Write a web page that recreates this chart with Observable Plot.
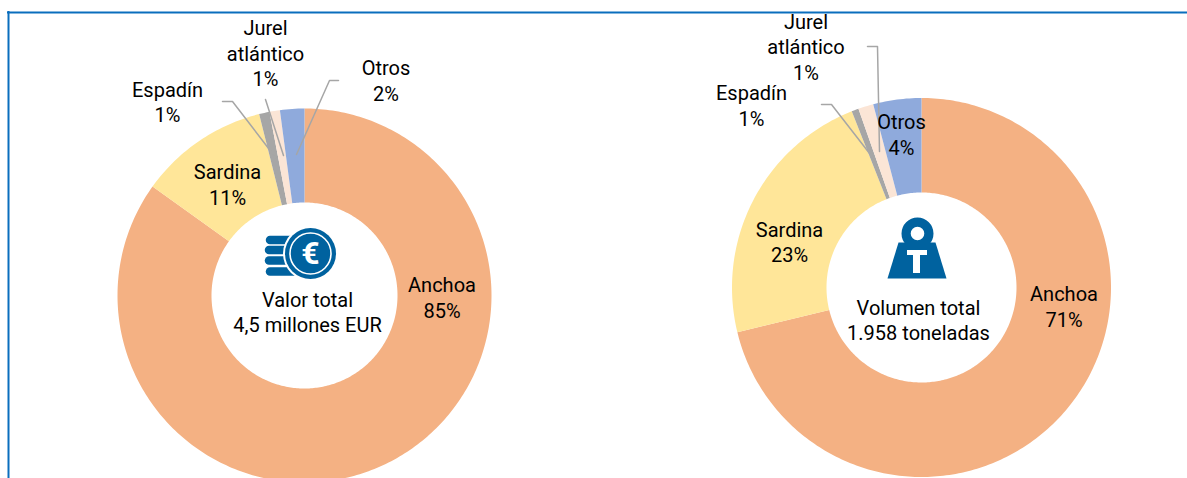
<!DOCTYPE html>
<html><head><meta charset="utf-8">
<script src="https://cdn.jsdelivr.net/npm/d3@7"></script>
<script src="https://cdn.jsdelivr.net/npm/@observablehq/plot@0.6"></script>
<style>html,body{margin:0;padding:0;background:#fff;overflow:hidden}svg{display:block}</style>
</head><body><div id="chart"></div>
<script>
// Data
const categories = ["Anchoa","Sardina","Espadín","Jurel atlántico","Otros"];
const colors = ["#F4B183","#FFE699","#A6A6A6","#FBE5D6","#8FAADC"];
const valorShares = [84.9,11.2,0.9,0.9,2.1];
const volumenShares = [71.2,22.8,0.6,1.3,4.1];

// Layout
const BLUE = "#0A6EBD", ICON = "#00629F", GREY = "#A6A6A6";
const donuts = [
  {shares:valorShares, cx:304, cy:295, R:187, r:93},
  {shares:volumenShares, cx:921, cy:287, R:189.5, r:95}
];
const labels = [
  ["Anchoa\n85%",441.5,296.5],["Sardina\n11%",227,183.5],["Espadín\n1%",167,101],
  ["Jurel\natlántico\n1%",265,52],["Otros\n2%",385.5,79.5],
  ["Valor total\n4,5 millones EUR",307,311],
  ["Anchoa\n71%",1063.5,305.5],["Sardina\n23%",789,241],["Espadín\n1%",751,104.5],
  ["Jurel\natlántico\n1%",805.5,45.5],["Otros\n4%",901,133.5],
  ["Volumen total\n1.958 toneladas",918,319]
];
const leaders = [
  [[338,80],[329,80],[296,154]],
  [[265,99],[283,155]],
  [[222,101],[232,101],[275,157]],
  [[867,46],[877,46],[879,151]],
  [[821,104],[831,104],[873,158]]
];
const stackBands = [[270,296,239.5],[269,292,249.5],[269,292,260],[270,296,271]];
const weightBody = [[898,242],[935,242],[946,278],[887,278],[898,242]];

const slices = donuts.flatMap((d,di) =>
  d3.pie().sort(null)(d.shares).flatMap((a,i) => {
    const n = Math.max(2, Math.ceil((a.endAngle-a.startAngle)*60));
    const outer = d3.range(n+1).map(k => a.startAngle+(a.endAngle-a.startAngle)*k/n);
    const pts = [...outer.map(t=>[t,d.R]), ...outer.slice().reverse().map(t=>[t,d.r])];
    pts.push(pts[0]);
    return pts.map(([t,rad]) => ({id:`${di}-${i}`, color:colors[i],
      x:d.cx+rad*Math.sin(t), y:d.cy-rad*Math.cos(t)}));
  })
);
const leaderPts = leaders.flatMap((l,i)=>l.map(p=>({id:i,x:p[0],y:p[1]})));
const font = "Roboto, sans-serif";

const plot = Plot.plot({
  width:1187, height:478, margin:0,
  x:{domain:[0,1187],range:[0,1187],axis:null},
  y:{domain:[0,478],range:[0,478],axis:null},
  marks:[
    Plot.line(slices,{x:"x",y:"y",z:"id",fill:"color",stroke:"none",curve:"linear"}),
    Plot.line(leaderPts,{x:"x",y:"y",z:"id",stroke:GREY,strokeWidth:1.5,curve:"linear"}),
    // euro icon
    Plot.ruleY(stackBands,{x1:d=>d[0],x2:d=>d[1],y:d=>d[2],stroke:ICON,strokeWidth:8.5,strokeLinecap:"round"}),
    Plot.dot([[310,253]],{x:d=>d[0],y:d=>d[1],r:27.5,fill:"#fff",stroke:"none"}),
    Plot.dot([[310,253]],{x:d=>d[0],y:d=>d[1],r:25.5,fill:ICON,stroke:"none"}),
    Plot.dot([[310,253]],{x:d=>d[0],y:d=>d[1],r:20.5,fill:"none",stroke:"#fff",strokeWidth:1.6}),
    Plot.text(["€"],{x:()=>310,y:()=>253,fill:"#fff",fontSize:32,fontWeight:700,fontFamily:font}),
    // weight icon
    Plot.dot([[917,233]],{x:d=>d[0],y:d=>d[1],r:11.4,fill:"none",stroke:ICON,strokeWidth:9.2}),
    Plot.line(weightBody,{x:d=>d[0],y:d=>d[1],fill:ICON,stroke:"none",curve:"linear"}),
    Plot.rect([[907,927,250,255],[913,920,250,273]],{x1:d=>d[0],x2:d=>d[1],y1:d=>d[2],y2:d=>d[3],fill:"#fff"}),
    // labels
    Plot.text(labels,{text:d=>d[0],x:d=>d[1],y:d=>d[2],fill:"#000",fontSize:20,fontWeight:400,fontFamily:font,lineHeight:25.5/20,style:{wordSpacing:"2px"}}),
    // frame
    Plot.rect([[0,1187,0,11]],{x1:d=>d[0],x2:d=>d[1],y1:d=>d[2],y2:d=>d[3],fill:"#fff"}),
    Plot.ruleY([12],{x1:7,x2:1187,stroke:BLUE,strokeWidth:2}),
    Plot.ruleX([8],{y1:11,y2:478,stroke:BLUE,strokeWidth:2})
  ]
});
document.getElementById("chart").append(plot);
</script></body></html>
